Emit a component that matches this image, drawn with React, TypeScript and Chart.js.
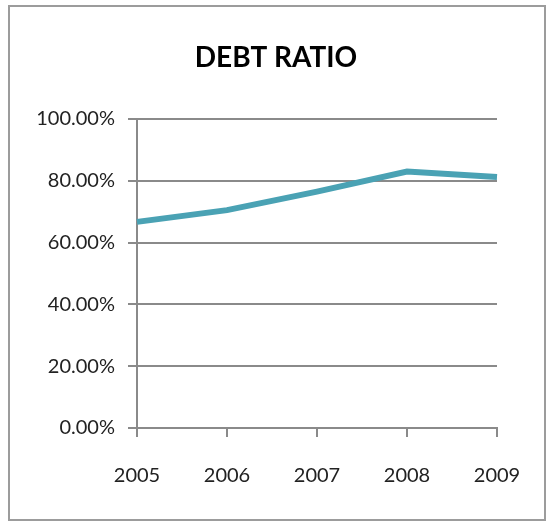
import React, { useEffect, useRef } from "react";
import { Chart, registerables } from "chart.js";

Chart.register(...registerables);

const categories = ["2005", "2006", "2007", "2008", "2009"];
const debtRatio = [66.7, 70.5, 76.5, 83.0, 81.2];
const chartTitle = "DEBT RATIO";

const centeredTitle = {
  id: "centeredTitle",
  afterDraw(chart: any) {
    const ctx = chart.ctx;
    ctx.save();
    ctx.font = "bold 28px Lato";
    ctx.fillStyle = "#000000";
    ctx.textAlign = "center";
    ctx.textBaseline = "middle";
    ctx.fillText(chartTitle, chart.width / 2, 58);
    ctx.restore();
  },
};

export default function App() {
  const ref = useRef<HTMLCanvasElement | null>(null);

  useEffect(() => {
    if (!ref.current) return;
    const chart = new Chart(ref.current, {
      type: "line",
      data: {
        labels: categories,
        datasets: [
          {
            data: debtRatio,
            borderColor: "#4aa2b4",
            borderWidth: 6,
            pointRadius: 0,
            tension: 0,
            fill: false,
          },
        ],
      },
      options: {
        responsive: false,
        animation: false,
        layout: { padding: { left: 0, right: 55, top: 119, bottom: 0 } },
        plugins: {
          legend: { display: false },
          tooltip: { enabled: false },
          title: { display: false },
        },
        scales: {
          x: {
            offset: false,
            grid: {
              drawOnChartArea: false,
              drawTicks: true,
              tickLength: 9,
              color: "#8a8a8a",
              lineWidth: 2,
            },
            border: { display: true, color: "#8a8a8a", width: 2 },
            ticks: {
              color: "#222222",
              font: { family: "Lato", size: 20 },
              padding: 27,
              maxRotation: 0,
            },
            afterFit: (scale: any) => {
              scale.height = 99;
            },
          },
          y: {
            min: 0,
            max: 100,
            ticks: {
              stepSize: 20,
              color: "#222222",
              font: { family: "Lato", size: 20 },
              padding: 13,
              callback: (v: any) => Number(v).toFixed(2) + "%",
            },
            grid: {
              color: "#8a8a8a",
              lineWidth: 2,
              tickLength: 9,
            },
            border: { display: true, color: "#8a8a8a", width: 2 },
            afterFit: (scale: any) => {
              scale.width = 137;
            },
          },
        },
      },
      plugins: [centeredTitle],
    });
    return () => chart.destroy();
  }, []);

  return (
    <div style={{ position: "absolute", left: 0, top: 0, width: 552, height: 527, background: "#ffffff" }}>
      <div
        style={{
          position: "absolute",
          left: 8,
          top: 5,
          width: 538,
          height: 516,
          border: "2px solid #9c9c9c",
          boxSizing: "border-box",
        }}
      />
      <canvas
        ref={ref}
        width={552}
        height={527}
        style={{ position: "absolute", left: 0, top: 0, width: 552, height: 527 }}
      />
    </div>
  );
}
